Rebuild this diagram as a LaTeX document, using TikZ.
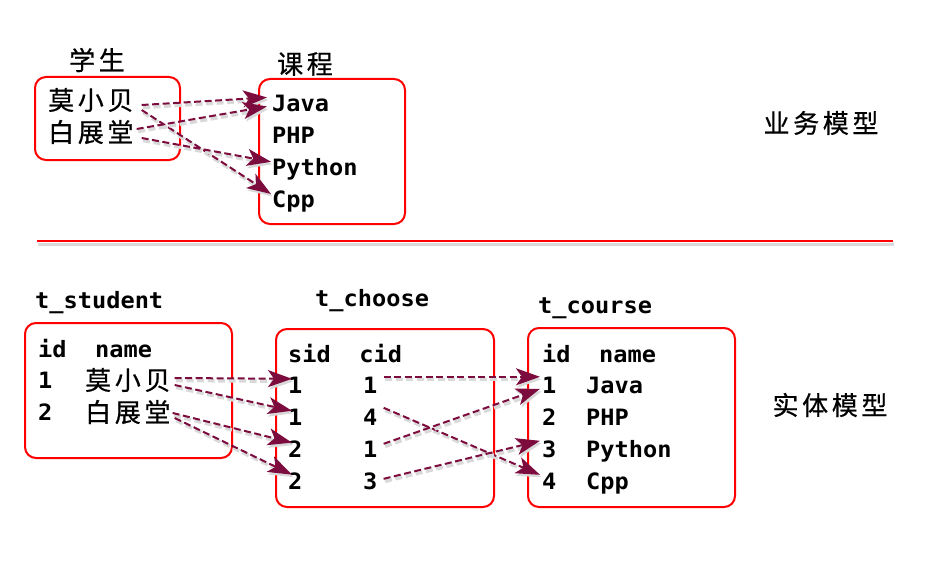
\documentclass[tikz,border=0pt]{standalone}
\usepackage{fontspec}
\usetikzlibrary{arrows.meta,shadows,calc}
\newfontfamily\monof[FakeStretch=1.05]{DejaVu Sans Mono Bold}
\newfontfamily\cjkf[LetterSpace=14,FakeBold=0.6]{Noto Sans CJK SC}
\definecolor{arr}{RGB}{125,12,62}
\definecolor{boxred}{RGB}{255,0,0}
\tikzset{
  tbl/.style={draw=boxred,line width=2pt,rounded corners=11pt},
  mono/.style={font=\monof\fontsize{22.5}{24}\selectfont,inner sep=0pt,anchor=base west},
  cjk/.style={font=\cjkf\fontsize{26}{28}\selectfont,inner sep=0pt,anchor=west},
  cjkc/.style={font=\cjkf\fontsize{26}{28}\selectfont,inner sep=0pt,anchor=center},
  arrtip/.style={-{Stealth[length=24pt,width=17pt,inset=6pt]}},
  link/.style={draw=arr,line width=2pt,dash pattern=on 7pt off 3.5pt,arrtip,
     preaction={draw=black!15,line width=3.5pt,transform canvas={shift={(1.5pt,-2.5pt)}},dash pattern=on 7pt off 3.5pt,arrtip}},
}
\begin{document}
\begin{tikzpicture}[x=1pt,y=-1pt]
\useasboundingbox (0,0) rectangle (928,567);
% ---------- top: business model
\draw[tbl] (35,77) rectangle (180,160);
\draw[tbl] (259,79) rectangle (405,224);
\node[cjkc] (xs) at (97,60) {学生};
\node[cjkc] (kc) at (305,64) {课程};
\node[cjk] (mo) at (48,100) {莫小贝};
\node[cjk] (bai) at (48,132) {白展堂};
\node[mono] (java) at (272,111.5) {Java};
\node[mono] (php) at (272,143) {PHP};
\node[mono] (py) at (272,175) {Python};
\node[mono] (cpp) at (272,207) {Cpp};
\node[cjkc] (yw) at (821,123) {业务模型};
\draw[link] ($(mo.east)+(8,5)$) -- ($(java.west)+(-5,-6)$);
\draw[link] ($(mo.east)+(8,10)$) -- ($(cpp.west)+(-1,-7)$);
\draw[link] ($(bai.east)+(3,-3)$) -- ($(java.west)+(-5,3)$);
\draw[link] ($(bai.east)+(8,6)$) -- ($(py.west)+(-1,-7)$);
% ---------- separator
\fill[black!15] (38,243) rectangle (894,246);
\coordinate (sepL) at (37,241);
\coordinate (sepR) at (893,241);
\draw[boxred,line width=2pt] (sepL) -- (sepR);
% ---------- bottom: entity model
\node[mono] (tst) at (35,308) {t\_student};
\node[mono] (tch) at (315,306) {t\_choose};
\node[mono] (tco) at (538,313) {t\_course};
\draw[tbl] (25,323) rectangle (232,458);
\draw[tbl] (276,329) rectangle (494,507);
\draw[tbl] (528,328) rectangle (735,507);
% t_student
\node[mono] (sh) at (38,357) {id\ \ name};
\node[mono] (s1) at (38,388) {1};
\node[cjk] (smo) at (85,380) {莫小贝};
\node[mono] (s2) at (38,420) {2};
\node[cjk] (sbai) at (85,412) {白展堂};
% t_choose
\node[mono] (ch) at (288,362) {sid\ \ cid};
\node[mono] (a1) at (288,393) {1};
\node[mono] (b1) at (363,393) {1};
\node[mono] (a2) at (288,425) {1};
\node[mono] (b2) at (363,425) {4};
\node[mono] (a3) at (288,457) {2};
\node[mono] (b3) at (363,457) {1};
\node[mono] (a4) at (288,489) {2};
\node[mono] (b4) at (363,489) {3};
% t_course
\node[mono] (coh) at (542,362) {id\ \ name};
\node[mono] (c1) at (542,393) {1};
\node[mono] (n1) at (586,393) {Java};
\node[mono] (c2) at (542,425) {2};
\node[mono] (n2) at (586,425) {PHP};
\node[mono] (c3) at (542,457) {3};
\node[mono] (n3) at (586,457) {Python};
\node[mono] (c4) at (542,489) {4};
\node[mono] (n4) at (586,489) {Cpp};
\node[cjkc] (st) at (830,405) {实体模型};
% links
\draw[link] ($(smo.east)+(4,-2)$) -- ($(a1.west)+(4,-6)$);
\draw[link] ($(smo.east)+(4,5)$) -- ($(a2.west)+(4,-6)$);
\draw[link] ($(sbai.east)+(2,1)$) -- ($(a3.west)+(4,-6)$);
\draw[link] ($(sbai.east)+(4,6)$) -- ($(a4.west)+(4,-6)$);
\draw[link] ($(b1.east)+(6,-8)$) -- ($(c1.west)+(-2,-8)$);
\draw[link] ($(b2.east)+(6,-9)$) -- ($(c4.west)+(-2,-6)$);
\draw[link] ($(b3.east)+(6,-5)$) -- ($(c1.west)+(-2,4)$);
\draw[link] ($(b4.east)+(6,-2)$) -- ($(c3.west)+(-2,-8)$);
\end{tikzpicture}
\end{document}
